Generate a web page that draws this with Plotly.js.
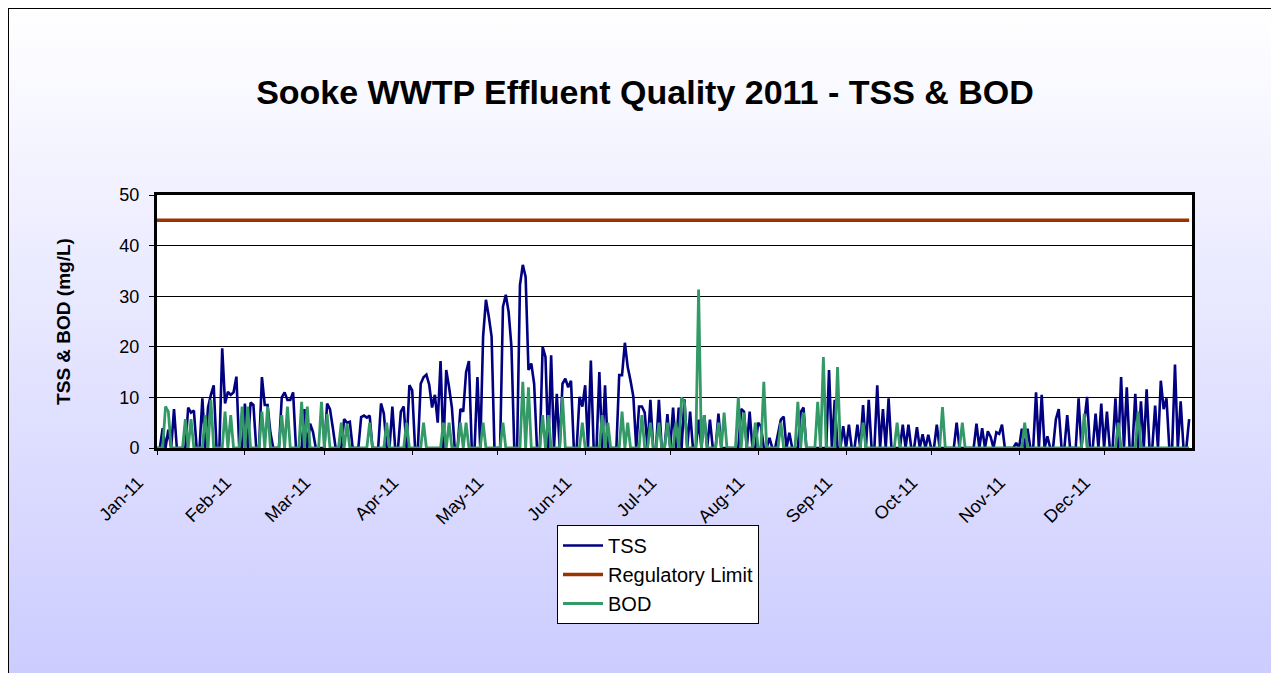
<!DOCTYPE html>
<html>
<head>
<meta charset="utf-8">
<script src="https://cdn.plot.ly/plotly-3.0.1.min.js"></script>
<style>
  html, body { margin: 0; padding: 0; background: #ffffff; width: 1271px; height: 673px; overflow: hidden; }
  #bg { position: absolute; left: 8px; top: 8px; width: 1400px; height: 800px; border: 1px solid #000;
        background: linear-gradient(to bottom, #ffffff 0px, #ccccff 665px, #ccccff 800px); }
  #chart { position: absolute; left: 0; top: 0; width: 1271px; height: 673px; }
</style>
</head>
<body>
<div id="bg"></div>
<div id="chart"></div>
<script>
// Start of the daily series
const startDate = '2011-01-01';

// Daily TSS (mg/L), Jan 1 .. Dec 31 2011
const tss = [
  0,0,3.9,0,3.6,0,7.7,0,0,0,
  0,8.0,7,7.4,0,0,9.8,0,8,10.5,
  12.4,0,0,19.7,8.8,11.1,10.5,11,14.1,0,
  0,8.8,0,9,8.5,0,0,14,8.5,8.5,
  3,0,0,0,10,11,9.5,9.5,11,0,
  0,0,7.7,0,4.8,3.2,0,0,0,0,
  8.8,7.7,4,0,0,0,5.7,5,5.2,0,
  0,0,6.1,6.4,6.0,6.4,0,0,0,8.8,
  6.8,0,0,8.2,0,0,7.2,8.2,0,12.4,
  11.4,0,0,12.7,14,14.5,12.5,8,10.5,5,
  17.2,0,15.4,12,8,0,0,7.7,7.2,15,
  17.2,0,0,14,0,22,29.3,26,22,0,
  0,0,27.9,30.3,26.9,20,0,0,32.2,36.2,
  33.8,15.4,16.7,12.7,0,0,20,18,0,18.3,
  0,10.7,0,12.7,13.7,12,13.3,0,0,10.1,
  8.2,12.4,0,17.3,0,0,15,0,12.4,0,
  0,0,0,14.4,14.4,20.8,16,13.3,10.1,0,
  8.2,8.2,7,0,9.5,0,0,9.5,0,0,
  6.7,0,8,0,8,0,9.6,0,7.2,0,
  0,5.6,0,6.5,0,5.6,0,0,6.8,0,
  0,0,0,0,0,0,7.7,7.2,0,7.2,
  0,0,5,4.3,0,0,2,0,0,3,
  5.6,6.2,0,3,0,0,0,7.1,8,0,
  0,0,0,0,0,0,0,15.4,0,9.5,
  0,0,4.3,0,4.6,0,0,4.6,0,8.5,
  0,9.5,0,0,12.4,0,7.7,0,9.8,0,
  0,0,0,4.6,0,4.6,0,0,4.1,0,
  2.7,0,2.6,0,0,4.6,0,0,0,0,
  0,0,5,0,0,0,0,0,0,4.8,
  0,3.9,0,3.3,2.2,0,3.1,2.8,4.6,0,
  0,0,0,1,0,3.8,0,3.8,0,0,
  11,0,10.5,0,2.3,0,0,5.7,7.7,0,
  0,6.5,0,0,0,9.8,0,5,10.1,0,
  0,6.8,0,8.8,0,7.2,0,0,9.8,0,
  14,0,12,0,0,10.7,0,9.2,0,11.6,
  0,0,8.4,0,13.3,7.7,9.8,0,0,16.5,
  0,9.2,0,0,5.7
];

// Daily BOD (mg/L)
const bod = [
  0,0,0,8.2,7.2,0,0,0,0,0,
  5.7,0,5.7,0,0,0,0,6.5,0,9.5,
  0,0,0,0,7.2,0,6.5,0,0,0,
  8.2,0,8.2,0,0,0,0,7.2,0,8.2,
  0,0,0,0,6.5,0,8.2,0,0,0,
  0,9.1,0,8.2,0,0,0,0,9.1,0,
  6.7,0,0,0,0,5,0,4.8,0,0,
  0,0,0,0,0,5,0,0,0,0,
  0,5,0,0,0,0,0,0,5,0,
  0,0,0,0,5,0,0,0,0,0,
  0,5,0,5,0,0,0,5,0,5,
  0,0,0,0,0,5,0,0,0,0,
  0,0,5,0,0,0,0,0,0,13.1,
  0,12,0,0,0,0,6.5,0,6.5,0,
  0,0,0,10.1,0,0,0,0,0,0,
  5,0,0,0,0,0,0,6.5,0,5,
  0,0,0,0,7.2,0,5,0,0,0,
  0,6.5,0,0,5,0,0,5,0,0,
  5,0,0,5,0,10,9,0,0,0,
  0,31.3,0,6.5,0,0,0,0,5,0,
  7,0,0,0,0,10,0,7,0,0,
  0,5,0,0,13.1,0,0,0,0,0,
  5,0,0,0,0,0,9.1,0,7,0,
  0,0,0,9.1,0,18,0,0,0,0,
  16,0,0,0,0,0,0,0,0,5,
  0,0,0,0,0,0,0,0,0,0,
  0,5,0,0,0,0,0,0,0,0,
  0,0,0,0,0,0,0,8.1,0,0,
  0,0,0,0,5,0,0,0,0,0,
  0,0,0,0,0,0,0,0,0,0,
  0,0,0,0,0,0,5,0,0,0,
  0,0,0,0,0,0,0,0,0,0,
  0,0,0,0,0,0,0,6.8,0,0,
  0,0,0,0,0,0,0,0,0,5,
  0,0,0,0,0,0,7.2,0,0,0,
  0,0,0,0,0,0,0,0,0,0,
  0,0,0,0,0
];

// Regulatory limit (mg/L)
const regulatoryLimit = 45;

// Month ticks
const tickDates = ['2011-01-01','2011-02-01','2011-03-01','2011-04-01','2011-05-01','2011-06-01',
                   '2011-07-01','2011-08-01','2011-09-01','2011-10-01','2011-11-01','2011-12-01'];
const tickLabels = ['Jan-11','Feb-11','Mar-11','Apr-11','May-11','Jun-11',
                    'Jul-11','Aug-11','Sep-11','Oct-11','Nov-11','Dec-11'];

// Build the date column
const dates = [];
{
  const d0 = new Date(startDate + 'T00:00:00Z');
  for (let i = 0; i < tss.length; i++) {
    const d = new Date(d0.getTime() + i * 86400000);
    dates.push(d.toISOString().slice(0, 10));
  }
}
const limitSeries = dates.map(() => regulatoryLimit);

const FONT = 'Liberation Sans, Arial, sans-serif';

const traces = [
  { x: dates, y: tss, type: 'scatter', mode: 'lines', name: 'TSS', legendgroup: 'a',
    line: { color: '#000080', width: 2.6 } },
  { x: dates, y: limitSeries, type: 'scatter', mode: 'lines', name: 'Regulatory Limit', legendgroup: 'b',
    line: { color: '#993300', width: 3.4 } },
  { x: dates, y: bod, type: 'scatter', mode: 'lines', name: 'BOD', legendgroup: 'c',
    line: { color: '#339966', width: 2.8 } }
];

const layout = {
  width: 1271, height: 673,
  paper_bgcolor: 'rgba(0,0,0,0)',
  plot_bgcolor: '#ffffff',
  margin: { l: 157, r: 79, t: 195, b: 225 },
  font: { family: FONT, color: '#000000', size: 18 },
  title: { text: '<b>Sooke WWTP Effluent Quality 2011 - TSS &amp; BOD</b>',
           font: { family: FONT, size: 34, color: '#000' },
           x: 645/1271, xref: 'container', xanchor: 'center',
           y: 1 - 92/673, yref: 'container', yanchor: 'middle' },
  xaxis: {
    type: 'date',
    range: ['2011-01-01', '2012-01-01'],
    tickvals: tickDates, ticktext: tickLabels,
    tickangle: -45,
    ticks: 'outside', ticklen: 4, tickcolor: '#000', tickwidth: 1,
    tickfont: { family: FONT, size: 18, color: '#000' },
    ticklabelstandoff: 10, ticklabelshift: -19,
    showgrid: false, zeroline: false,
    showline: true, linecolor: '#000', linewidth: 3, mirror: true
  },
  yaxis: {
    range: [0, 50], dtick: 10, tick0: 0,
    ticks: 'outside', ticklen: 5, tickcolor: '#000', tickwidth: 1,
    tickfont: { family: FONT, size: 18, color: '#000' },
    ticklabelstandoff: 6,
    showgrid: true, gridcolor: '#000000', gridwidth: 1,
    zeroline: false,
    showline: true, linecolor: '#000', linewidth: 3, mirror: true,
    title: { text: '<b>TSS &amp; BOD (mg/L)</b>', font: { family: FONT, size: 19, color: '#000' }, standoff: 44 }
  },
  showlegend: true,
  legend: {
    x: (557 - 157) / 1035, xanchor: 'left',
    y: (448 - 525) / 253, yanchor: 'top',
    bgcolor: '#ffffff', bordercolor: '#000000', borderwidth: 1,
    font: { family: FONT, size: 20, color: '#000' },
    traceorder: 'normal', tracegroupgap: 1,
    itemwidth: 40
  },
  hovermode: false
};

Plotly.newPlot('chart', traces, layout, { staticPlot: true, displayModeBar: false });
</script>
</body>
</html>
